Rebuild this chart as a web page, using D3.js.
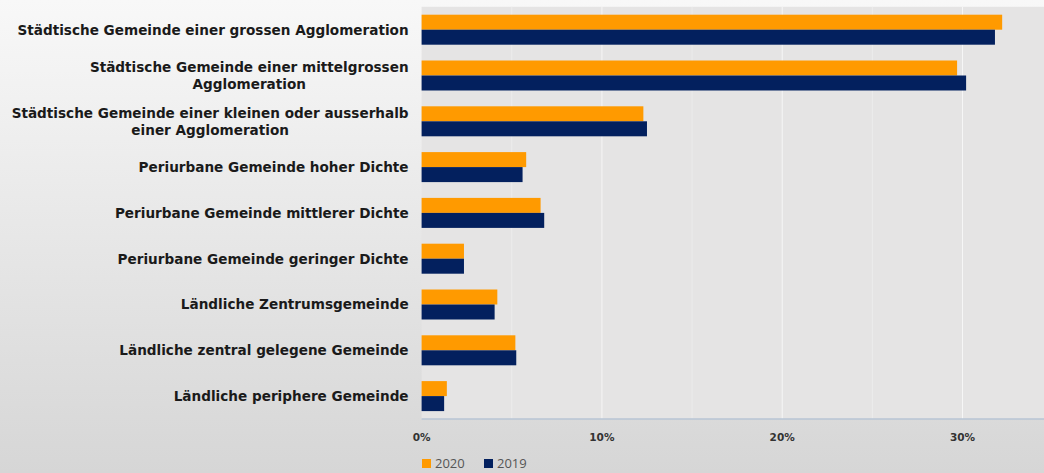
<!DOCTYPE html>
<html>
<head>
<meta charset="utf-8">
<script src="https://cdn.jsdelivr.net/npm/d3@7"></script>
<style>
  body { margin: 0; padding: 0; overflow: hidden; }
  .tick-label { font-family: "DejaVu Sans", Verdana, sans-serif; font-weight: bold; font-size: 10.5px; fill: #333; }
  .cat-label { font-family: "DejaVu Sans", Verdana, sans-serif; font-weight: bold; font-size: 13.6px; fill: #1a1a1a; }
  .legend-text { font-family: "Open Sans", "Liberation Sans", sans-serif; font-size: 13px; fill: #555; }
</style>
</head>
<body>
<div id="chart"></div>
<script>
// data
var categories = [
  "Städtische Gemeinde einer grossen Agglomeration",
  "Städtische Gemeinde einer mittelgrossen|Agglomeration",
  "Städtische Gemeinde einer kleinen oder ausserhalb|einer Agglomeration",
  "Periurbane Gemeinde hoher Dichte",
  "Periurbane Gemeinde mittlerer Dichte",
  "Periurbane Gemeinde geringer Dichte",
  "Ländliche Zentrumsgemeinde",
  "Ländliche zentral gelegene Gemeinde",
  "Ländliche periphere Gemeinde"
];
var values2020 = [32.2, 29.7, 12.3, 5.8, 6.6, 2.35, 4.2, 5.2, 1.4];
var values2019 = [31.8, 30.2, 12.5, 5.6, 6.8, 2.35, 4.05, 5.25, 1.25];
var seriesNames = ["2020", "2019"];
var xTicks = [0, 10, 20, 30];

var svgWidth = 1044;
var svgHeight = 473;

var margin = { top: 6.8, right: 0, bottom: 54, left: 421.6 };
var width = svgWidth - margin.left - margin.right;
var height = svgHeight - margin.top - margin.bottom;

var svg = d3.select("#chart")
  .append("svg")
  .attr("width", svgWidth)
  .attr("height", svgHeight);

// background gradient
var defs = svg.append("defs");
var grad = defs.append("linearGradient")
  .attr("id", "bg")
  .attr("x1", 0).attr("y1", 0).attr("x2", 0).attr("y2", 1);
grad.append("stop").attr("offset", "0%").attr("stop-color", "#f8f8f8");
grad.append("stop").attr("offset", "100%").attr("stop-color", "#d6d6d6");

svg.append("rect")
  .attr("width", svgWidth)
  .attr("height", svgHeight)
  .attr("fill", "url(#bg)");

var chartGroup = svg.append("g")
  .attr("transform", `translate(${margin.left}, ${margin.top})`);

// plot area
chartGroup.append("rect")
  .attr("width", width)
  .attr("height", height)
  .attr("fill", "#e5e4e4");

// 1% = 18.03px, axis runs to the right edge
var xScale = d3.scaleLinear()
  .domain([0, width / 18.03])
  .range([0, width]);

var yScale = d3.scaleBand()
  .domain(categories)
  .range([0, height])
  .paddingInner(0.345)
  .paddingOuter(0.1725);

var subScale = d3.scaleBand()
  .domain(seriesNames)
  .range([0, yScale.bandwidth()]);

// gridlines every 5%
var gridVals = d3.range(5, xScale.domain()[1], 5);
chartGroup.selectAll(".grid")
  .data(gridVals)
  .enter()
  .append("line")
  .attr("x1", d => xScale(d))
  .attr("x2", d => xScale(d))
  .attr("y1", 0)
  .attr("y2", height)
  .attr("stroke", d => d % 10 === 0 ? "#f6f6f6" : "#ececec")
  .attr("stroke-width", 1);

// bars
var colors = { "2020": "#ff9a00", "2019": "#03205e" };
var seriesData = { "2020": values2020, "2019": values2019 };

seriesNames.forEach(function(s) {
  chartGroup.selectAll(".bar-" + s)
    .data(categories)
    .enter()
    .append("rect")
    .attr("x", 0)
    .attr("y", d => yScale(d) + subScale(s))
    .attr("width", (d, i) => xScale(seriesData[s][i]))
    .attr("height", subScale.bandwidth())
    .attr("fill", colors[s]);
});

// x axis line
chartGroup.append("line")
  .attr("x1", 0)
  .attr("x2", width)
  .attr("y1", height)
  .attr("y2", height)
  .attr("stroke", "#b7c4d4")
  .attr("stroke-width", 1.5);

// tick labels
chartGroup.selectAll(".tick-label")
  .data(xTicks)
  .enter()
  .append("text")
  .attr("class", "tick-label")
  .attr("x", d => xScale(d))
  .attr("y", height + 22)
  .attr("text-anchor", "middle")
  .text(d => d + "%");

// category labels (multi-line ones are centred on each other, right aligned as a block)
var labelGroups = chartGroup.selectAll(".cat")
  .data(categories)
  .enter()
  .append("text")
  .attr("class", "cat-label")
  .attr("text-anchor", "middle");

labelGroups.each(function(d) {
  var lines = d.split("|");
  var t = d3.select(this);
  var cy = yScale(d) + yScale.bandwidth() / 2;
  var lh = 17;
  var y0 = cy - (lines.length - 1) * lh / 2 + 5;
  lines.forEach(function(line, i) {
    t.append("tspan")
      .attr("y", y0 + i * lh)
      .text(line);
  });
  var spans = t.selectAll("tspan").nodes();
  var maxW = d3.max(spans, n => n.getComputedTextLength());
  var right = -13;
  t.selectAll("tspan")
    .attr("x", right - maxW / 2);
});

// legend
var legend = svg.append("g")
  .attr("transform", "translate(422, 459)");
var legendX = [0, 62];
seriesNames.forEach(function(s, i) {
  legend.append("rect")
    .attr("x", legendX[i])
    .attr("y", 0)
    .attr("width", 9)
    .attr("height", 9)
    .attr("fill", colors[s]);
  legend.append("text")
    .attr("class", "legend-text")
    .attr("x", legendX[i] + 13)
    .attr("y", 9)
    .text(s);
});
</script>
</body>
</html>
